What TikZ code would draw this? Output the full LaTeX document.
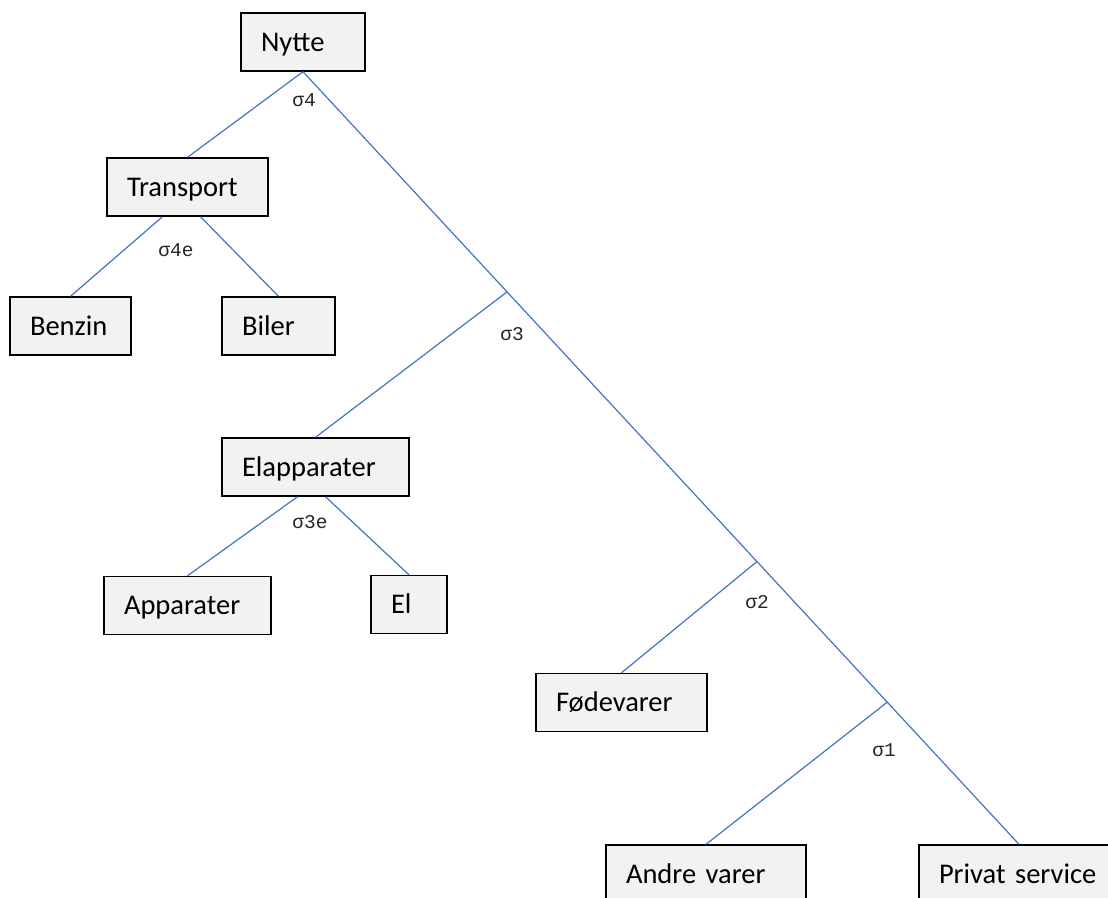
\documentclass[tikz,border=0pt]{standalone}
\usepackage{fontspec}
\setmainfont{Carlito}
\newfontfamily\sigfont{Liberation Mono}
\usetikzlibrary{positioning, calc}
\definecolor{linjeblaa}{RGB}{68,114,196}
\definecolor{boksgraa}{RGB}{242,242,242}

\begin{document}
\begin{tikzpicture}[x=1pt, y=-1pt,
	box/.style={draw=black, line width=1.4pt, fill=boksgraa, minimum height=58pt,
		inner xsep=20pt, inner ysep=0pt, align=left, text height=18pt, text depth=0pt,
		font=\fontsize{28.5}{34}\selectfont},
	branch/.style={draw=linjeblaa, line width=1.2pt},
	sig/.style={font=\sigfont\fontsize{19.5}{22}\selectfont, text=black!85}]
	\clip (0,0) rectangle (1108,897);

	\node[box, text width=84pt] (nytte) at (303,42) {Nytte};
	\node[box, text width=121pt] (transport) at (187.5,187) {Transport};
	\node[box, text width=81pt] (benzin) at (70.5,326) {Benzin};
	\node[box, text width=73pt] (biler) at (278.5,326) {Biler};
	\node[box, text width=147pt] (elapp) at (315.5,467) {Elapparater};
	\node[box, text width=127pt] (apparater) at (187.5,605.5) {Apparater};
	\node[box, text width=36pt] (el) at (409,604.5) {El};
	\node[box, text width=131pt] (fodevarer) at (621.5,702.5) {Fødevarer};
	\node[box, text width=160pt] (andre) at (706,874) {Andre varer};
	\node[box, text width=160pt] (privat) at (1019,874) {Privat service};

	% forgreninger paa hovedlinjen
	\coordinate (j3) at ($(nytte.south)!0.285!(privat.north)$);
	\coordinate (j2) at ($(nytte.south)!0.634!(privat.north)$);
	\coordinate (j1) at ($(nytte.south)!0.816!(privat.north)$);

	\draw[branch]
		(nytte.south) -- (transport.north)
		(nytte.south) -- (privat.north)
		([xshift=-25pt]transport.south) -- (benzin.north)
		([xshift=13pt]transport.south) -- (biler.north)
		(j3) -- (elapp.north)
		([xshift=-18pt]elapp.south) -- (apparater.north)
		([xshift=10pt]elapp.south) -- (el.north)
		(j2) -- (fodevarer.north)
		(j1) -- (andre.north)
		;

	\node[sig] (s4) at (304,100) {σ4};
	\node[sig] (s4e) at (176,250) {σ4e};
	\node[sig] (s3) at (512,334) {σ3};
	\node[sig] (s3e) at (310,522) {σ3e};
	\node[sig] (s2) at (757,602) {σ2};
	\node[sig] (s1) at (884,750) {σ1};
\end{tikzpicture}
\end{document}
